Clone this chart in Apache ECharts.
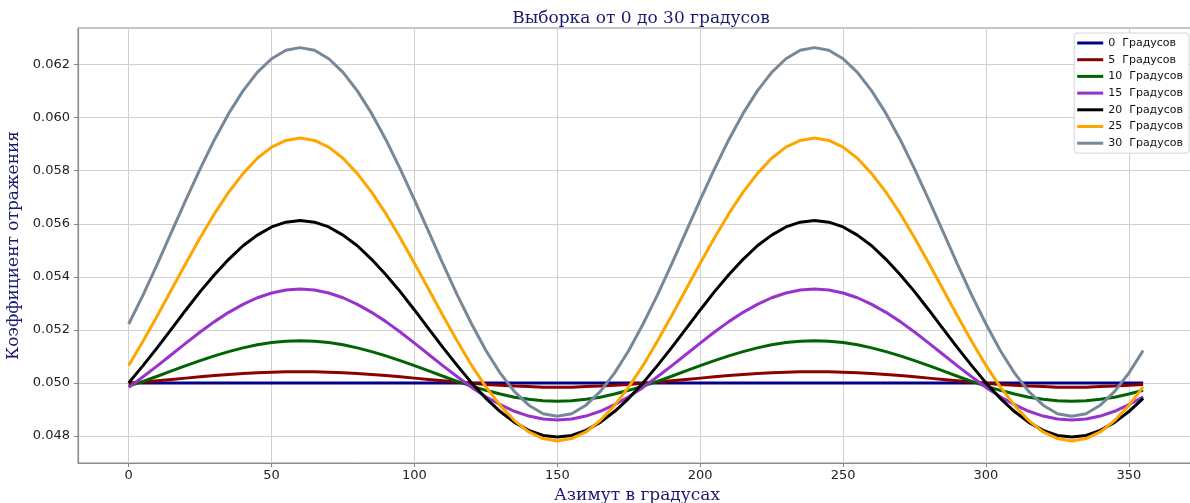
<!DOCTYPE html>
<html>
<head>
<meta charset="utf-8">
<script src="https://cdn.jsdelivr.net/npm/echarts@6/dist/echarts.min.js"></script>
<style>
  html, body { margin: 0; padding: 0; background: #fff; }
  #main { width: 1190px; height: 503px; }
</style>
</head>
<body>
<div id="main"></div>
<script>
// azimuth, degrees
const azimuth = [0, 5, 10, 15, 20, 25, 30, 35, 40, 45, 50, 55, 60, 65, 70, 75, 80, 85, 90, 95, 100, 105, 110, 115,
  120, 125, 130, 135, 140, 145, 150, 155, 160, 165, 170, 175, 180, 185, 190, 195, 200, 205, 210, 215, 220, 225, 230, 235,
  240, 245, 250, 255, 260, 265, 270, 275, 280, 285, 290, 295, 300, 305, 310, 315, 320, 325, 330, 335, 340, 345, 350, 355];

const deg0 = [0.05, 0.05, 0.05, 0.05, 0.05, 0.05, 0.05, 0.05, 0.05, 0.05, 0.05, 0.05, 0.05, 0.05, 0.05, 0.05, 0.05, 0.05,
  0.05, 0.05, 0.05, 0.05, 0.05, 0.05, 0.05, 0.05, 0.05, 0.05, 0.05, 0.05, 0.05, 0.05, 0.05, 0.05, 0.05, 0.05,
  0.05, 0.05, 0.05, 0.05, 0.05, 0.05, 0.05, 0.05, 0.05, 0.05, 0.05, 0.05, 0.05, 0.05, 0.05, 0.05, 0.05, 0.05,
  0.05, 0.05, 0.05, 0.05, 0.05, 0.05, 0.05, 0.05, 0.05, 0.05, 0.05, 0.05, 0.05, 0.05, 0.05, 0.05, 0.05, 0.05];

const deg5 = [0.04999, 0.05003, 0.05008, 0.05013, 0.05018, 0.05023, 0.05028, 0.05032, 0.05035, 0.05038, 0.05040, 0.05042,
  0.05042, 0.05042, 0.05040, 0.05038, 0.05035, 0.05032, 0.05028, 0.05023, 0.05018, 0.05013, 0.05008, 0.05003,
  0.04999, 0.04994, 0.04991, 0.04988, 0.04986, 0.04984, 0.04984, 0.04984, 0.04986, 0.04988, 0.04991, 0.04994,
  0.04999, 0.05003, 0.05008, 0.05013, 0.05018, 0.05023, 0.05028, 0.05032, 0.05035, 0.05038, 0.05040, 0.05042,
  0.05042, 0.05042, 0.05040, 0.05038, 0.05035, 0.05032, 0.05028, 0.05023, 0.05018, 0.05013, 0.05008, 0.05003,
  0.04999, 0.04994, 0.04991, 0.04988, 0.04986, 0.04984, 0.04984, 0.04984, 0.04986, 0.04988, 0.04991, 0.04994];

const deg10 = [0.04988, 0.05006, 0.05025, 0.05045, 0.05065, 0.05084, 0.05102, 0.05118, 0.05132, 0.05144, 0.05152, 0.05157,
  0.05159, 0.05157, 0.05152, 0.05144, 0.05132, 0.05118, 0.05102, 0.05084, 0.05065, 0.05045, 0.05025, 0.05006,
  0.04988, 0.04972, 0.04958, 0.04946, 0.04938, 0.04933, 0.04931, 0.04933, 0.04938, 0.04946, 0.04958, 0.04972,
  0.04988, 0.05006, 0.05025, 0.05045, 0.05065, 0.05084, 0.05102, 0.05118, 0.05132, 0.05144, 0.05152, 0.05157,
  0.05159, 0.05157, 0.05152, 0.05144, 0.05132, 0.05118, 0.05102, 0.05084, 0.05065, 0.05045, 0.05025, 0.05006,
  0.04988, 0.04972, 0.04958, 0.04946, 0.04938, 0.04933, 0.04931, 0.04933, 0.04938, 0.04946, 0.04958, 0.04972];

const deg15 = [0.04983, 0.05023, 0.05064, 0.05107, 0.05150, 0.05192, 0.05231, 0.05266, 0.05296, 0.05321, 0.05339, 0.05350,
  0.05354, 0.05350, 0.05339, 0.05321, 0.05296, 0.05266, 0.05231, 0.05192, 0.05150, 0.05107, 0.05064, 0.05023,
  0.04983, 0.04948, 0.04918, 0.04893, 0.04875, 0.04864, 0.04860, 0.04864, 0.04875, 0.04893, 0.04918, 0.04948,
  0.04983, 0.05023, 0.05064, 0.05107, 0.05150, 0.05192, 0.05231, 0.05266, 0.05296, 0.05321, 0.05339, 0.05350,
  0.05354, 0.05350, 0.05339, 0.05321, 0.05296, 0.05266, 0.05231, 0.05192, 0.05150, 0.05107, 0.05064, 0.05023,
  0.04983, 0.04948, 0.04918, 0.04893, 0.04875, 0.04864, 0.04860, 0.04864, 0.04875, 0.04893, 0.04918, 0.04948];

const deg20 = [0.05000, 0.05065, 0.05133, 0.05204, 0.05275, 0.05344, 0.05408, 0.05466, 0.05517, 0.05557, 0.05588, 0.05606,
  0.05612, 0.05606, 0.05588, 0.05557, 0.05517, 0.05466, 0.05408, 0.05344, 0.05275, 0.05204, 0.05133, 0.05065,
  0.05000, 0.04942, 0.04892, 0.04851, 0.04821, 0.04802, 0.04796, 0.04802, 0.04821, 0.04851, 0.04892, 0.04942,
  0.05000, 0.05065, 0.05133, 0.05204, 0.05275, 0.05344, 0.05408, 0.05466, 0.05517, 0.05557, 0.05588, 0.05606,
  0.05612, 0.05606, 0.05588, 0.05557, 0.05517, 0.05466, 0.05408, 0.05344, 0.05275, 0.05204, 0.05133, 0.05065,
  0.05000, 0.04942, 0.04892, 0.04851, 0.04821, 0.04802, 0.04796, 0.04802, 0.04821, 0.04851, 0.04892, 0.04942];

const deg25 = [0.05066, 0.05157, 0.05253, 0.05352, 0.05451, 0.05547, 0.05638, 0.05719, 0.05789, 0.05847, 0.05889, 0.05914,
  0.05923, 0.05914, 0.05889, 0.05847, 0.05789, 0.05719, 0.05638, 0.05547, 0.05451, 0.05352, 0.05253, 0.05157,
  0.05066, 0.04985, 0.04915, 0.04858, 0.04815, 0.04790, 0.04781, 0.04790, 0.04815, 0.04858, 0.04915, 0.04985,
  0.05066, 0.05157, 0.05253, 0.05352, 0.05451, 0.05547, 0.05638, 0.05719, 0.05789, 0.05847, 0.05889, 0.05914,
  0.05923, 0.05914, 0.05889, 0.05847, 0.05789, 0.05719, 0.05638, 0.05547, 0.05451, 0.05352, 0.05253, 0.05157,
  0.05066, 0.04985, 0.04915, 0.04858, 0.04815, 0.04790, 0.04781, 0.04790, 0.04815, 0.04858, 0.04915, 0.04985];

const deg30 = [0.05222, 0.05331, 0.05448, 0.05569, 0.05690, 0.05807, 0.05917, 0.06016, 0.06101, 0.06171, 0.06222, 0.06254,
  0.06264, 0.06254, 0.06222, 0.06171, 0.06101, 0.06016, 0.05917, 0.05807, 0.05690, 0.05569, 0.05448, 0.05331,
  0.05222, 0.05122, 0.05037, 0.04967, 0.04916, 0.04884, 0.04874, 0.04884, 0.04916, 0.04967, 0.05037, 0.05122,
  0.05222, 0.05331, 0.05448, 0.05569, 0.05690, 0.05807, 0.05917, 0.06016, 0.06101, 0.06171, 0.06222, 0.06254,
  0.06264, 0.06254, 0.06222, 0.06171, 0.06101, 0.06016, 0.05917, 0.05807, 0.05690, 0.05569, 0.05448, 0.05331,
  0.05222, 0.05122, 0.05037, 0.04967, 0.04916, 0.04884, 0.04874, 0.04884, 0.04916, 0.04967, 0.05037, 0.05122];

const seriesNames = ['0  Градусов', '5  Градусов', '10  Градусов', '15  Градусов', '20  Градусов', '25  Градусов', '30  Градусов'];
const seriesValues = [deg0, deg5, deg10, deg15, deg20, deg25, deg30];
const seriesColors = ['#00008b', '#8b0000', '#006400', '#9932cc', '#000000', '#ffa500', '#778899'];

const xTicks = [0, 50, 100, 150, 200, 250, 300, 350];
const yTicks = [0.048, 0.050, 0.052, 0.054, 0.056, 0.058, 0.060, 0.062];

const chart = echarts.init(document.getElementById('main'));

const series = seriesNames.map((name, i) => ({
    name: name,
    type: 'line',
    data: azimuth.map((x, j) => [x, seriesValues[i][j]]),
    symbol: 'none',
    smooth: false,
    lineStyle: { color: seriesColors[i], width: 3 },
    itemStyle: { color: seriesColors[i] }
}));

const gridLine = { show: true, lineStyle: { color: '#d0d0d0', width: 1 } };
const tickStyle = { show: true, length: 4, lineStyle: { color: '#888' } };

chart.setOption({
    animation: false,
    backgroundColor: '#fff',
    title: {
        text: 'Выборка от 0 до 30 градусов',
        left: 636,
        top: 5,
        textAlign: 'center',
        textStyle: { fontFamily: 'DejaVu Serif', fontSize: 17, fontWeight: 'normal', color: '#191970' }
    },
    legend: {
        orient: 'vertical',
        right: 1,
        top: 33,
        icon: 'rect',
        itemWidth: 26,
        itemHeight: 3,
        itemGap: 2.7,
        padding: [3, 6, 3, 3],
        backgroundColor: '#fff',
        borderColor: '#d5d5d5',
        borderWidth: 1,
        borderRadius: 3,
        textStyle: { fontFamily: 'DejaVu Sans', fontSize: 11, color: '#111', lineHeight: 14 },
        data: seriesNames
    },
    grid: {
        show: true,
        left: 78,
        right: -6,
        top: 28,
        bottom: 40,
        outerBoundsMode: 'none',
        containLabel: false,
        borderColor: '#8c8c8c',
        borderWidth: 1,
        backgroundColor: 'transparent'
    },
    xAxis: {
        type: 'value',
        min: -17.75,
        max: 373.5,
        name: 'Азимут в градусах',
        nameLocation: 'middle',
        nameGap: 21,
        nameTextStyle: { fontFamily: 'DejaVu Serif', fontSize: 17, color: '#191970' },
        axisLine: { show: true, onZero: false, lineStyle: { color: '#8c8c8c', width: 1.2 } },
        axisTick: Object.assign({ customValues: xTicks }, tickStyle),
        axisLabel: { customValues: xTicks, fontFamily: 'DejaVu Sans', fontSize: 13, color: '#222', margin: 6 },
        splitLine: gridLine
    },
    yAxis: {
        type: 'value',
        min: 0.04698,
        max: 0.06338,
        name: 'Коэффициент отражения',
        nameLocation: 'middle',
        nameGap: 48,
        nameTextStyle: { fontFamily: 'DejaVu Serif', fontSize: 17, color: '#191970' },
        axisLine: { show: true, onZero: false, lineStyle: { color: '#8c8c8c', width: 1.2 } },
        axisTick: Object.assign({ customValues: yTicks }, tickStyle),
        axisLabel: {
            customValues: yTicks,
            fontFamily: 'DejaVu Sans', fontSize: 13, color: '#222', margin: 8,
            formatter: v => v.toFixed(3)
        },
        splitLine: gridLine
    },
    series: series
});
</script>
</body>
</html>
